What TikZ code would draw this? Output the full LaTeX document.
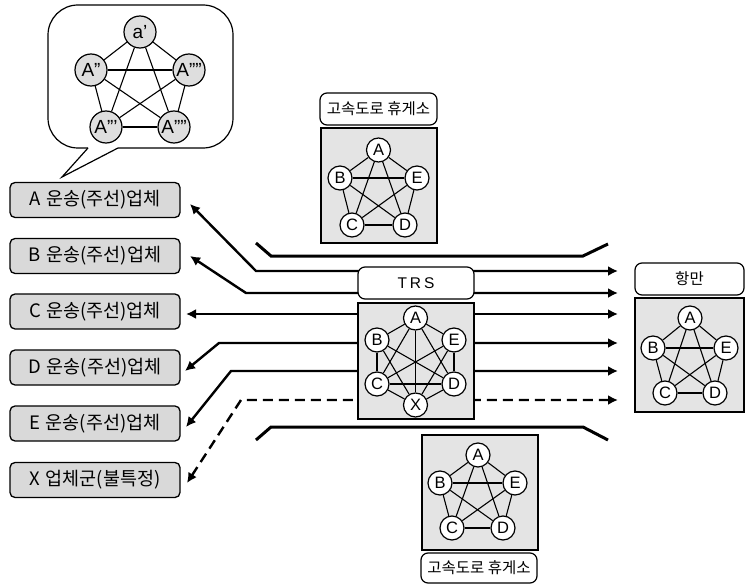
\documentclass[tikz,border=0pt]{standalone}
\usepackage{fontspec}
\setmainfont{Liberation Sans}
\newfontfamily\kr{Noto Sans CJK KR}
\usetikzlibrary{arrows.meta}
\definecolor{boxgray}{HTML}{D9D9D9}
\definecolor{panelgray}{HTML}{E4E4E4}
\definecolor{circgray}{HTML}{DEDEDE}
\begin{document}
\begin{tikzpicture}[x=1pt,y=-1pt,
  firm/.style={draw, rounded corners=5pt, fill=boxgray, line width=1.3pt, minimum width=170pt, minimum height=35pt, inner sep=0pt, font=\kr\fontsize{18.5}{20}\selectfont},
  vx/.style={circle, draw, fill=white, line width=1.2pt, minimum size=24pt, inner sep=0pt, font=\fontsize{16.5}{17}\selectfont},
  bx/.style={vx, fill=circgray, minimum size=32pt, font=\fontsize{19}{20}\selectfont},
  panel/.style={draw, fill=panelgray, line width=1.2pt, inner sep=0pt},
  tag/.style={draw, fill=white, rounded corners=7pt, line width=1.2pt, inner sep=0pt, font=\kr\fontsize{15.5}{17}\selectfont},
  link/.style={line width=2.4pt, {Latex[length=10pt,width=10pt]}-{Latex[length=10pt,width=10pt]}},
  road/.style={line width=3pt},
  edge/.style={line width=1.1pt}]
\useasboundingbox (0,0) rectangle (745,586);

% speech bubble
\draw[line width=1.2pt, fill=white, rounded corners=30pt] (48,5) rectangle (233,148);
\fill[white] (89,145) -- (117,145) -- (118,148) -- (62,177) -- (88,148) -- cycle;
\draw[line width=1.2pt] (88,148) -- (62,177) -- (118,148);
\node[bx] (u1) at (140,32) {a’};
\node[bx] (u2) at (91,70) {A”};
\node[bx] (u3) at (189,70) {A””};
\node[bx] (u4) at (106,127) {A”’};
\node[bx] (u5) at (174,127) {A””};
\foreach \a/\b in {1/2,1/3,1/4,1/5,2/3,2/4,2/5,3/4,3/5,4/5}
  \draw[edge] (u\a) -- (u\b);

% firms
\node[firm] (fA) at (95,200) {A\hspace{0.3em}운송(주선)업체};
\node[firm] (fB) at (95,256) {B\hspace{0.3em}운송(주선)업체};
\node[firm] (fC) at (95,311.5) {C\hspace{0.3em}운송(주선)업체};
\node[firm] (fD) at (95,367.5) {D\hspace{0.3em}운송(주선)업체};
\node[firm] (fE) at (95,423.5) {E\hspace{0.3em}운송(주선)업체};
\node[firm] (fX) at (95,480) {X\hspace{0.3em}업체군(불특정)};

% roads
\draw[road] (256,243) -- (271,256) -- (583,256) -- (608,244);
\draw[road] (256,440) -- (271,427) -- (583,427) -- (608,440);

% links
\coordinate (la) at (190,204); \coordinate (ra) at (618,271);
\coordinate (lb) at (190,256); \coordinate (rb) at (618,293);
\coordinate (lc) at (186,314); \coordinate (rc) at (618,314);
\coordinate (ld) at (185,371); \coordinate (rd) at (618,343);
\coordinate (le) at (186,427); \coordinate (re) at (618,371);
\coordinate (lx) at (187,483); \coordinate (rx) at (618,400);
\draw[link] (la) -- (256,271) -- (ra);
\draw[link] (lb) -- (246,293) -- (rb);
\draw[link] (lc) -- (rc);
\draw[link] (ld) -- (219,343) -- (rd);
\draw[link] (le) -- (231,371) -- (re);
\draw[link, dash pattern=on 10pt off 6pt] (lx) -- (241,400) -- (rx);

% top rest area
\node[tag, minimum width=117pt, minimum height=32pt] (tt) at (378.5,109) {고속도로 휴게소};
\node[panel, minimum width=116pt, minimum height=115pt] (tp) at (379,185.5) {};
\node[vx] (tA) at (378.5,150) {A};
\node[vx] (tB) at (340,178) {B};
\node[vx] (tE) at (417,178) {E};
\node[vx] (tC) at (352,225) {C};
\node[vx] (tD) at (405,225) {D};

% TRS
\node[tag, minimum width=116pt, minimum height=32pt, font=\fontsize{15.5}{17}\selectfont] (mt) at (416,283) {T\hspace{3pt}R\hspace{3pt}S};
\node[panel, minimum width=116pt, minimum height=116pt] (mp) at (416,361) {};
\node[vx] (mA) at (415.5,318) {A};
\node[vx] (mB) at (377,340) {B};
\node[vx] (mE) at (454,340) {E};
\node[vx] (mC) at (377,384) {C};
\node[vx] (mD) at (454,384) {D};
\node[vx] (mX) at (415.5,405) {X};
\foreach \a/\b in {A/B,A/C,A/D,A/E,A/X,B/C,B/D,B/X,C/D,C/E,C/X,D/E,D/X,E/X}
  \draw[edge] (m\a) -- (m\b);

% harbour
\node[tag, minimum width=109pt, minimum height=32pt] (ht) at (689.5,279) {항만};
\node[panel, minimum width=109pt, minimum height=114pt] (hp) at (689.5,355) {};
\node[vx] (hA) at (690,318) {A};
\node[vx] (hB) at (653,348) {B};
\node[vx] (hE) at (726,348) {E};
\node[vx] (hC) at (665,393) {C};
\node[vx] (hD) at (715,393) {D};

% bottom rest area
\node[panel, minimum width=116pt, minimum height=115pt] (bp) at (480,492.5) {};
\node[tag, minimum width=116pt, minimum height=30pt] (bt) at (479,568) {고속도로 휴게소};
\node[vx] (bA) at (478,455) {A};
\node[vx] (bB) at (440,483) {B};
\node[vx] (bE) at (515,483) {E};
\node[vx] (bC) at (452,528) {C};
\node[vx] (bD) at (503,528) {D};

\foreach \p in {t,h,b}
  \foreach \a/\b in {A/B,A/C,A/D,A/E,B/C,B/D,B/E,C/D,C/E,D/E}
    \draw[edge] (\p\a) -- (\p\b);
\end{tikzpicture}
\end{document}
